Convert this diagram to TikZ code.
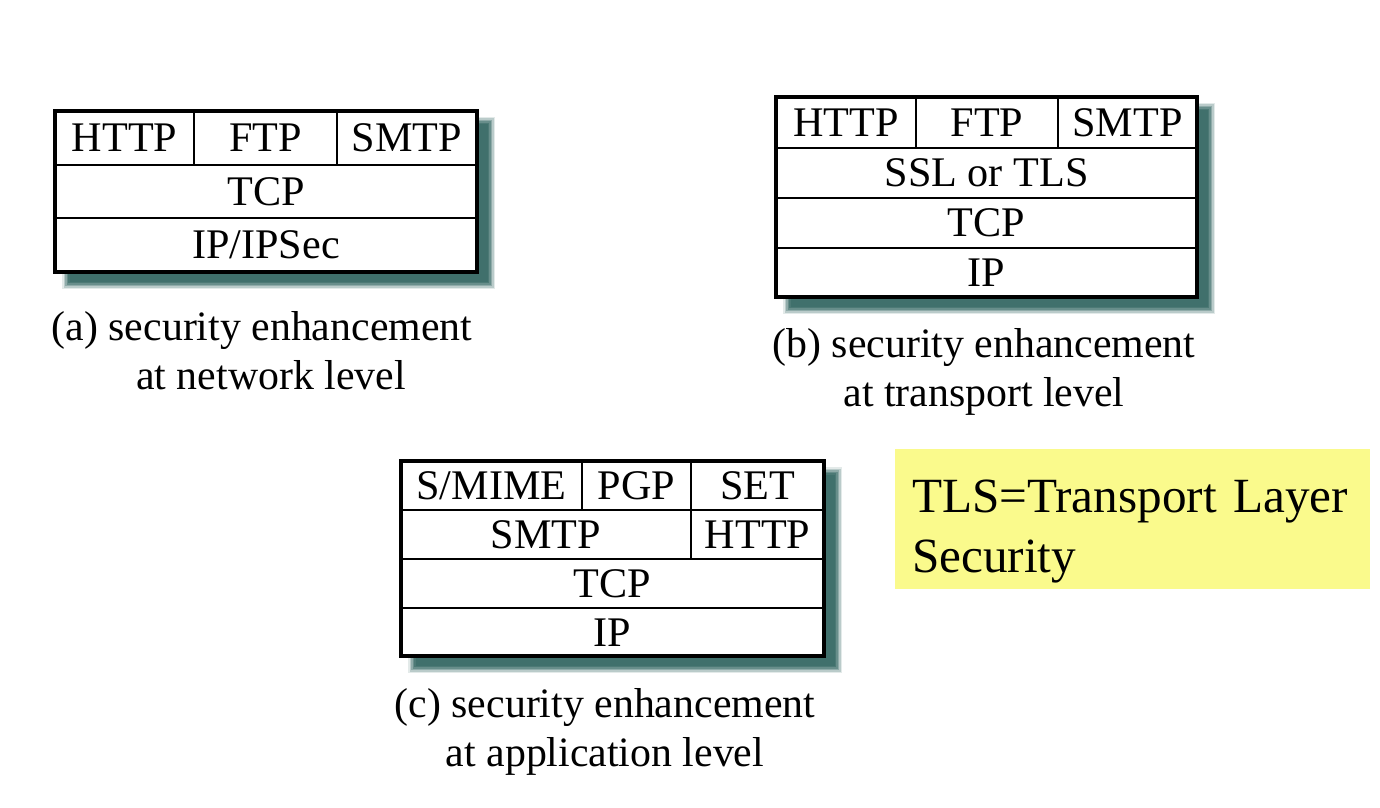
\documentclass[tikz,border=0pt]{standalone}
\usepackage{fontspec}
\setmainfont{Liberation Serif}
\usepackage{tikz}
\usetikzlibrary{calc}
\definecolor{shadowteal}{RGB}{64,112,108}
\definecolor{noteyellow}{RGB}{250,250,140}
\newcommand{\layerfont}{\fontsize{24}{28}\selectfont}
\newcommand{\capfont}{\fontsize{23.8}{28}\selectfont}
\newcommand{\notefont}{\fontsize{28}{34}\selectfont}
% soft drop shadow plus white body of a stack, local coords (width, height)
\newcommand{\stackbody}[2]{%
  \foreach \b/\o in {4/0.15,2.5/0.25,1/0.35,-0.5/0.5,-2/0.7,-3.5/1}
    \fill[shadowteal, opacity=\o] (11-\b,10-\b) rectangle (#1+14+\b,#2+13+\b);
  \fill[white] (0,0) rectangle (#1,#2);
}

\begin{document}
\begin{tikzpicture}[
    x=0.2mm, y=-0.2mm,
    frame/.style={line width=2.2pt},
    sep/.style={line width=0.8pt},
    lay/.style={font=\layerfont, inner sep=0pt, text height=15.9pt, text depth=0pt},
    caption/.style={font=\capfont, align=center},
    note/.style={fill=noteyellow, minimum width=95mm, minimum height=27.6mm,
      text width=88.2mm, inner xsep=3.4mm, align=left, font=\notefont},
  ]
  \useasboundingbox (0,0) rectangle (1380,808);

  % Stack (a): network level
  \begin{scope}[shift={(55,111)}]
    \stackbody{422}{161}
    \draw[sep] (0,54) -- (422,54) (0,107) -- (422,107)
      (139,0) -- (139,54) (282,0) -- (282,54);
    \draw[frame] (0,0) rectangle (422,161);
    \node[lay] (a-http) at (69.5,27) {HTTP};
    \node[lay] (a-ftp) at (210.5,27) {FTP};
    \node[lay] (a-smtp) at (352,27) {SMTP};
    \node[lay] (a-tcp) at (211,80.5) {TCP};
    \node[lay] (a-ip) at (211,134) {IP/IPSec};
  \end{scope}
  \node[caption] (a-cap) at (262,351) {(a) security enhancement\\\hspace*{3.6mm}at network level};

  % Stack (b): transport level
  \begin{scope}[shift={(776,97)}]
    \stackbody{421}{200}
    \draw[sep] (0,51) -- (421,51) (0,101) -- (421,101) (0,151) -- (421,151)
      (140,0) -- (140,51) (282,0) -- (282,51);
    \draw[frame] (0,0) rectangle (421,200);
    \node[lay] (b-http) at (70,25.5) {HTTP};
    \node[lay] (b-ftp) at (211,25.5) {FTP};
    \node[lay] (b-smtp) at (351.5,25.5) {SMTP};
    \node[lay] (b-ssl) at (210.5,76) {SSL or TLS};
    \node[lay] (b-tcp) at (210.5,126) {TCP};
    \node[lay] (b-ip) at (210.5,175.5) {IP};
  \end{scope}
  \node[caption] (b-cap) at (984,372) {(b) security enhancement\\at transport level};

  % Stack (c): application level
  \begin{scope}[shift={(401,461)}]
    \stackbody{423}{195}
    \draw[sep] (0,49) -- (423,49) (0,98) -- (423,98) (0,147) -- (423,147)
      (181,0) -- (181,49) (290,0) -- (290,98);
    \draw[frame] (0,0) rectangle (423,195);
    \node[lay] (c-smime) at (90.5,24.5) {S/MIME};
    \node[lay] (c-pgp) at (235.5,24.5) {PGP};
    \node[lay] (c-set) at (356.5,24.5) {SET};
    \node[lay] (c-smtp) at (145,73.5) {SMTP};
    \node[lay] (c-http) at (356.5,73.5) {HTTP};
    \node[lay] (c-tcp) at (211.5,122.5) {TCP};
    \node[lay] (c-ip) at (211.5,171.5) {IP};
  \end{scope}
  \node[caption] (c-cap) at (605,732) {(c) security enhancement\\at application level};

  % Note
  \node[note] (tls) at (1132.5,519) {\rule{0pt}{33pt}TLS=Transport Layer\\Security};

\end{tikzpicture}
\end{document}
